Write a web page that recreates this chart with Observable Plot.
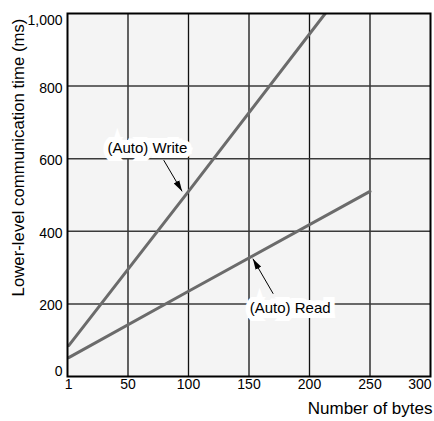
<!DOCTYPE html>
<html><head><meta charset="utf-8">
<script src="https://cdn.jsdelivr.net/npm/d3@7"></script>
<script src="https://cdn.jsdelivr.net/npm/@observablehq/plot@0.6"></script>
<style>
body{margin:0;background:#fff;}
svg{font-family:"Liberation Sans",Arial,sans-serif;}
</style></head>
<body><div id="chart"></div>
<script>
const xTicks = [1, 50, 100, 150, 200, 250, 300];
const yTicks = [0, 200, 400, 600, 800, 1000];
const bytesWrite = [1, 100, 213];
const msWrite = [85, 510, 1000];
const bytesRead = [1, 100, 250];
const msRead = [52, 235, 510];
const labels = ["(Auto) Write", "(Auto) Read"];
const labelX = [66, 184];
const labelY = [630, 187];
const arrowFromX = [79.5, 170];
const arrowFromY = [596, 228];
const arrowToX = [94.7, 153.2];
const arrowToY = [510, 324.5];
const xTitle = "Number of bytes";
const yTitle = "Lower-level communication time (ms)";

const writeData = bytesWrite.map((b, i) => ({b, ms: msWrite[i]}));
const readData = bytesRead.map((b, i) => ({b, ms: msRead[i]}));
const ann = labels.map((t, i) => ({t, x: labelX[i], y: labelY[i], x1: arrowFromX[i], y1: arrowFromY[i], x2: arrowToX[i], y2: arrowToY[i]}));

function filledArrow(color, context) {
  const doc = context && context.document ? context.document : document;
  const ns = "http://www.w3.org/2000/svg";
  const m = doc.createElementNS(ns, "marker");
  m.setAttribute("viewBox", "-11 -4 12 8");
  m.setAttribute("markerWidth", "12");
  m.setAttribute("markerHeight", "8");
  m.setAttribute("markerUnits", "userSpaceOnUse");
  m.setAttribute("orient", "auto");
  m.setAttribute("refX", "0");
  m.setAttribute("refY", "0");
  m.setAttribute("fill", "#000");
  m.setAttribute("stroke", "none");
  const p = doc.createElementNS(ns, "path");
  p.setAttribute("d", "M-11,-3.2L0,0L-11,3.2Z");
  m.appendChild(p);
  return m;
}

const fmt = d3.format(",");
const yMid = yTicks.filter(t => t !== 0 && t !== 1000);
const yTop = yTicks.filter(t => t === 1000);
const yBottom = yTicks.filter(t => t === 0);

const chart = Plot.plot({
  width: 434, height: 421,
  marginLeft: 67, marginRight: 4, marginTop: 13, marginBottom: 45,
  style: {fontSize: "14px", fontFamily: "Liberation Sans, Arial, sans-serif", color: "#000", background: "#fff"},
  x: {domain: [0, 300], label: null, axis: null},
  y: {domain: [0, 1000], label: null, axis: null},
  marks: [
    Plot.frame({fill: "#f4f4f4", stroke: null}),
    Plot.gridX([50, 100, 150, 200, 250], {stroke: "#111", strokeOpacity: 1, strokeWidth: 1.3}),
    Plot.gridY([200, 400, 600, 800], {stroke: "#3a3a3a", strokeOpacity: 1, strokeWidth: 1.5}),
    Plot.line(writeData, {x: "b", y: "ms", stroke: "#6b6b6b", strokeWidth: 3, clip: true}),
    Plot.line(readData, {x: "b", y: "ms", stroke: "#6b6b6b", strokeWidth: 3, clip: true}),
    Plot.link(ann, {x1: "x1", y1: "y1", x2: "x2", y2: "y2", stroke: "#000", strokeWidth: 1, markerEnd: filledArrow}),
    Plot.text(ann, {x: "x", y: "y", text: "t", fontSize: 15, fill: "#000", stroke: "#fff", strokeWidth: 10, strokeLinejoin: "miter"}),
    Plot.frame({stroke: "#000", strokeWidth: 2}),
    Plot.text(xTicks.filter(t => t !== 300), {x: d => d, frameAnchor: "bottom", dy: 12.5, fontSize: 14, fill: "#000"}),
    Plot.text(xTicks.filter(t => t === 300), {x: d => d, frameAnchor: "bottom", dy: 12.5, dx: 1, textAnchor: "end", fontSize: 14, fill: "#000"}),
    Plot.text(yMid, {y: d => d, frameAnchor: "left", dx: -5, dy: 2, textAnchor: "end", text: fmt, fontSize: 14, fill: "#000"}),
    Plot.text(yTop, {y: d => d, frameAnchor: "left", dx: -5, dy: 7, textAnchor: "end", text: fmt, fontSize: 14, fill: "#000"}),
    Plot.text(yBottom, {y: d => d, frameAnchor: "left", dx: -5, dy: -5, textAnchor: "end", text: fmt, fontSize: 14, fill: "#000"}),
    Plot.text([xTitle], {frameAnchor: "bottom-right", dy: 37, dx: 2, fontSize: 17, textAnchor: "end", fill: "#000"}),
    Plot.text([yTitle], {frameAnchor: "left", dx: -49, dy: -37.5, rotate: -90, textAnchor: "middle", fontSize: 16.8, fill: "#000"})
  ]
});
document.getElementById("chart").appendChild(chart);
</script></body></html>
